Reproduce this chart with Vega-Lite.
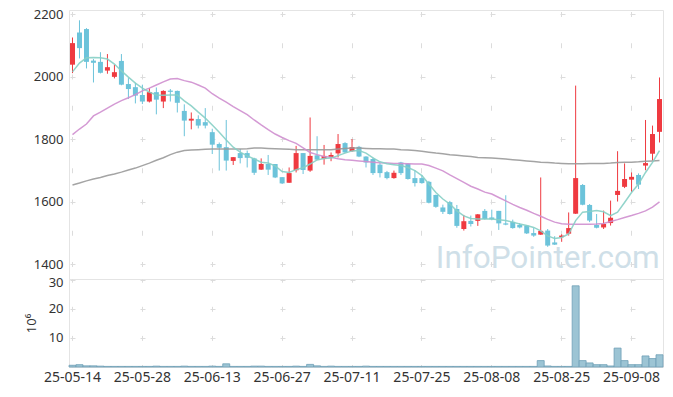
{
  "$schema": "https://vega.github.io/schema/vega-lite/v6.json",
  "padding": {"left": 24, "top": 7, "right": 10, "bottom": 5},
  "spacing": 0,
  "bounds": "flush",
  "config": {
    "view": {"stroke": "#e4e4e4", "strokeWidth": 1},
    "axis": {"labelFont": "Noto Sans", "labelFontSize": 13, "labelColor": "#333333", "titleFont": "Noto Sans", "domain": false, "ticks": false, "gridColor": "#dcdcdc", "gridWidth": 1}
  },
  "data": {"values": [
    {"d":"25-05-14","o":2038,"h":2125,"l":2011,"c":2107,"v":0.6,"m5":2015,"m20":1814,"m60":1653},
    {"d":"25-05-15","o":2141,"h":2180,"l":2058,"c":2091,"v":0.8,"m5":2043,"m20":1832,"m60":1659},
    {"d":"25-05-16","o":2152,"h":2155,"l":2026,"c":2047,"v":0.4,"m5":2060,"m20":1848,"m60":1666},
    {"d":"25-05-19","o":2051,"h":2056,"l":1981,"c":2044,"v":0.4,"m5":2061,"m20":1874,"m60":1672},
    {"d":"25-05-20","o":2047,"h":2078,"l":2010,"c":2012,"v":0.3,"m5":2060,"m20":1886,"m60":1677},
    {"d":"25-05-21","o":2019,"h":2072,"l":2009,"c":2030,"v":0.2,"m5":2056,"m20":1899,"m60":1683},
    {"d":"25-05-22","o":1999,"h":2038,"l":1994,"c":2014,"v":0.2,"m5":2040,"m20":1912,"m60":1688},
    {"d":"25-05-23","o":2050,"h":2072,"l":1972,"c":1974,"v":0.2,"m5":2018,"m20":1923,"m60":1694},
    {"d":"25-05-26","o":1976,"h":1995,"l":1928,"c":1960,"v":0.2,"m5":1998,"m20":1932,"m60":1701},
    {"d":"25-05-27","o":1966,"h":1980,"l":1914,"c":1939,"v":0.2,"m5":1979,"m20":1942,"m60":1707},
    {"d":"25-05-28","o":1941,"h":1974,"l":1912,"c":1920,"v":0.2,"m5":1963,"m20":1954,"m60":1715},
    {"d":"25-05-29","o":1920,"h":1963,"l":1917,"c":1950,"v":0.2,"m5":1950,"m20":1963,"m60":1723},
    {"d":"25-05-30","o":1950,"h":1965,"l":1879,"c":1926,"v":0.3,"m5":1941,"m20":1973,"m60":1732},
    {"d":"25-06-02","o":1920,"h":1956,"l":1899,"c":1954,"v":0.2,"m5":1940,"m20":1983,"m60":1740},
    {"d":"25-06-04","o":1955,"h":1960,"l":1920,"c":1951,"v":0.2,"m5":1941,"m20":1992,"m60":1750},
    {"d":"25-06-05","o":1954,"h":1955,"l":1885,"c":1916,"v":0.2,"m5":1941,"m20":1994,"m60":1758},
    {"d":"25-06-09","o":1890,"h":1911,"l":1809,"c":1859,"v":0.3,"m5":1922,"m20":1987,"m60":1763},
    {"d":"25-06-10","o":1859,"h":1885,"l":1831,"c":1865,"v":0.2,"m5":1906,"m20":1982,"m60":1765},
    {"d":"25-06-11","o":1864,"h":1876,"l":1834,"c":1843,"v":0.2,"m5":1886,"m20":1973,"m60":1766},
    {"d":"25-06-12","o":1854,"h":1899,"l":1834,"c":1843,"v":0.2,"m5":1867,"m20":1963,"m60":1767},
    {"d":"25-06-13","o":1822,"h":1833,"l":1752,"c":1782,"v":0.3,"m5":1845,"m20":1945,"m60":1768},
    {"d":"25-06-16","o":1784,"h":1789,"l":1699,"c":1772,"v":0.2,"m5":1822,"m20":1931,"m60":1768},
    {"d":"25-06-17","o":1774,"h":1861,"l":1699,"c":1731,"v":1.1,"m5":1797,"m20":1918,"m60":1768},
    {"d":"25-06-18","o":1730,"h":1742,"l":1717,"c":1742,"v":0.2,"m5":1774,"m20":1904,"m60":1768},
    {"d":"25-06-19","o":1755,"h":1768,"l":1722,"c":1739,"v":0.2,"m5":1758,"m20":1891,"m60":1768},
    {"d":"25-06-20","o":1755,"h":1763,"l":1709,"c":1740,"v":0.2,"m5":1746,"m20":1878,"m60":1769},
    {"d":"25-06-23","o":1738,"h":1740,"l":1685,"c":1692,"v":0.3,"m5":1736,"m20":1861,"m60":1771},
    {"d":"25-06-24","o":1702,"h":1738,"l":1701,"c":1720,"v":0.3,"m5":1726,"m20":1845,"m60":1771},
    {"d":"25-06-25","o":1720,"h":1749,"l":1685,"c":1702,"v":0.2,"m5":1723,"m20":1830,"m60":1770},
    {"d":"25-06-26","o":1720,"h":1720,"l":1675,"c":1677,"v":0.2,"m5":1714,"m20":1816,"m60":1769},
    {"d":"25-06-27","o":1678,"h":1678,"l":1656,"c":1658,"v":0.2,"m5":1696,"m20":1805,"m60":1768},
    {"d":"25-06-30","o":1660,"h":1709,"l":1660,"c":1691,"v":0.2,"m5":1693,"m20":1795,"m60":1767},
    {"d":"25-07-01","o":1700,"h":1778,"l":1693,"c":1755,"v":0.3,"m5":1702,"m20":1786,"m60":1766},
    {"d":"25-07-02","o":1755,"h":1755,"l":1688,"c":1701,"v":0.2,"m5":1708,"m20":1772,"m60":1766},
    {"d":"25-07-03","o":1699,"h":1869,"l":1695,"c":1746,"v":0.9,"m5":1720,"m20":1757,"m60":1766},
    {"d":"25-07-04","o":1748,"h":1809,"l":1733,"c":1734,"v":0.4,"m5":1733,"m20":1750,"m60":1766},
    {"d":"25-07-07","o":1736,"h":1781,"l":1718,"c":1746,"v":0.2,"m5":1738,"m20":1744,"m60":1766},
    {"d":"25-07-08","o":1742,"h":1757,"l":1729,"c":1749,"v":0.3,"m5":1739,"m20":1742,"m60":1766},
    {"d":"25-07-09","o":1754,"h":1816,"l":1741,"c":1784,"v":0.2,"m5":1747,"m20":1737,"m60":1768},
    {"d":"25-07-10","o":1787,"h":1790,"l":1755,"c":1757,"v":0.2,"m5":1755,"m20":1734,"m60":1770},
    {"d":"25-07-11","o":1761,"h":1800,"l":1759,"c":1774,"v":0.2,"m5":1762,"m20":1732,"m60":1771},
    {"d":"25-07-14","o":1775,"h":1778,"l":1742,"c":1744,"v":0.2,"m5":1763,"m20":1730,"m60":1771},
    {"d":"25-07-15","o":1744,"h":1745,"l":1709,"c":1725,"v":0.3,"m5":1755,"m20":1728,"m60":1770},
    {"d":"25-07-16","o":1736,"h":1741,"l":1685,"c":1691,"v":0.2,"m5":1740,"m20":1726,"m60":1769},
    {"d":"25-07-17","o":1718,"h":1725,"l":1677,"c":1691,"v":0.2,"m5":1727,"m20":1724,"m60":1769},
    {"d":"25-07-18","o":1694,"h":1698,"l":1671,"c":1675,"v":0.2,"m5":1721,"m20":1723,"m60":1768},
    {"d":"25-07-21","o":1675,"h":1699,"l":1673,"c":1692,"v":0.2,"m5":1718,"m20":1722,"m60":1768},
    {"d":"25-07-22","o":1725,"h":1727,"l":1685,"c":1691,"v":0.2,"m5":1715,"m20":1722,"m60":1766},
    {"d":"25-07-23","o":1721,"h":1722,"l":1670,"c":1672,"v":0.2,"m5":1709,"m20":1721,"m60":1765},
    {"d":"25-07-24","o":1675,"h":1700,"l":1648,"c":1659,"v":0.2,"m5":1699,"m20":1720,"m60":1763},
    {"d":"25-07-25","o":1675,"h":1685,"l":1657,"c":1659,"v":0.2,"m5":1683,"m20":1720,"m60":1761},
    {"d":"25-07-28","o":1663,"h":1666,"l":1594,"c":1596,"v":0.2,"m5":1656,"m20":1715,"m60":1758},
    {"d":"25-07-29","o":1621,"h":1622,"l":1580,"c":1583,"v":0.2,"m5":1629,"m20":1707,"m60":1755},
    {"d":"25-07-30","o":1581,"h":1590,"l":1560,"c":1567,"v":0.2,"m5":1608,"m20":1698,"m60":1753},
    {"d":"25-07-31","o":1598,"h":1602,"l":1558,"c":1560,"v":0.2,"m5":1592,"m20":1685,"m60":1750},
    {"d":"25-08-01","o":1576,"h":1589,"l":1516,"c":1522,"v":0.2,"m5":1570,"m20":1673,"m60":1748},
    {"d":"25-08-04","o":1512,"h":1557,"l":1507,"c":1537,"v":0.2,"m5":1554,"m20":1661,"m60":1746},
    {"d":"25-08-05","o":1538,"h":1555,"l":1520,"c":1528,"v":0.2,"m5":1546,"m20":1649,"m60":1744},
    {"d":"25-08-06","o":1538,"h":1560,"l":1522,"c":1559,"v":0.2,"m5":1544,"m20":1640,"m60":1741},
    {"d":"25-08-07","o":1570,"h":1576,"l":1542,"c":1544,"v":0.2,"m5":1544,"m20":1630,"m60":1740},
    {"d":"25-08-08","o":1549,"h":1574,"l":1540,"c":1543,"v":0.2,"m5":1544,"m20":1624,"m60":1739},
    {"d":"25-08-11","o":1570,"h":1570,"l":1509,"c":1530,"v":0.2,"m5":1542,"m20":1613,"m60":1738},
    {"d":"25-08-12","o":1530,"h":1620,"l":1524,"c":1526,"v":0.2,"m5":1539,"m20":1602,"m60":1736},
    {"d":"25-08-13","o":1535,"h":1542,"l":1513,"c":1515,"v":0.2,"m5":1534,"m20":1591,"m60":1734},
    {"d":"25-08-14","o":1525,"h":1531,"l":1514,"c":1517,"v":0.2,"m5":1528,"m20":1581,"m60":1732},
    {"d":"25-08-18","o":1523,"h":1524,"l":1496,"c":1498,"v":0.2,"m5":1523,"m20":1572,"m60":1730},
    {"d":"25-08-19","o":1499,"h":1515,"l":1487,"c":1491,"v":0.2,"m5":1517,"m20":1562,"m60":1728},
    {"d":"25-08-20","o":1494,"h":1677,"l":1493,"c":1506,"v":2.2,"m5":1506,"m20":1553,"m60":1726},
    {"d":"25-08-21","o":1507,"h":1512,"l":1455,"c":1459,"v":0.35,"m5":1490,"m20":1543,"m60":1725},
    {"d":"25-08-22","o":1469,"h":1489,"l":1461,"c":1462,"v":0.2,"m5":1482,"m20":1534,"m60":1723},
    {"d":"25-08-25","o":1486,"h":1495,"l":1471,"c":1491,"v":0.2,"m5":1485,"m20":1529,"m60":1722},
    {"d":"25-08-26","o":1497,"h":1565,"l":1491,"c":1515,"v":0.2,"m5":1496,"m20":1527,"m60":1721},
    {"d":"25-08-27","o":1561,"h":1971,"l":1560,"c":1675,"v":27.9,"m5":1539,"m20":1527,"m60":1721},
    {"d":"25-08-28","o":1653,"h":1656,"l":1588,"c":1590,"v":2.2,"m5":1566,"m20":1527,"m60":1721},
    {"d":"25-08-29","o":1589,"h":1592,"l":1534,"c":1539,"v":1.4,"m5":1568,"m20":1527,"m60":1722},
    {"d":"25-09-01","o":1525,"h":1560,"l":1514,"c":1516,"v":0.8,"m5":1571,"m20":1528,"m60":1722},
    {"d":"25-09-02","o":1517,"h":1571,"l":1512,"c":1528,"v":0.8,"m5":1567,"m20":1530,"m60":1722},
    {"d":"25-09-03","o":1531,"h":1603,"l":1523,"c":1548,"v":0.35,"m5":1555,"m20":1536,"m60":1723},
    {"d":"25-09-04","o":1621,"h":1761,"l":1600,"c":1634,"v":6.5,"m5":1566,"m20":1542,"m60":1725},
    {"d":"25-09-05","o":1647,"h":1722,"l":1643,"c":1672,"v":2.2,"m5":1597,"m20":1549,"m60":1726},
    {"d":"25-09-08","o":1670,"h":1693,"l":1631,"c":1679,"v":0.8,"m5":1629,"m20":1555,"m60":1726},
    {"d":"25-09-09","o":1685,"h":1690,"l":1640,"c":1654,"v":0.8,"m5":1656,"m20":1562,"m60":1727},
    {"d":"25-09-10","o":1715,"h":1861,"l":1700,"c":1723,"v":3.8,"m5":1693,"m20":1570,"m60":1729},
    {"d":"25-09-11","o":1753,"h":1843,"l":1731,"c":1816,"v":2.9,"m5":1725,"m20":1582,"m60":1730},
    {"d":"25-09-12","o":1823,"h":1997,"l":1789,"c":1928,"v":4.2,"m5":1763,"m20":1599,"m60":1731}
  ]},
  "vconcat": [
    {
      "width": 594,
      "height": 269,
      "encoding": {
        "x": {"field": "d", "type": "ordinal", "sort": null,
          "scale": {"paddingInner": 0, "paddingOuter": 0},
          "axis": {"title": null, "labels": false, "grid": true,
            "values": ["25-05-14","25-05-28","25-06-13","25-06-27","25-07-11","25-07-25","25-08-08","25-08-25","25-09-08"],
            "gridDash": [5, 26.25], "gridDashOffset": 29.75}}
      },
      "layer": [
        {
          "mark": {"type": "text", "font": "Roboto", "fontSize": 31.5, "color": "#cfdfe8", "align": "center", "baseline": "alphabetic"},
          "encoding": {
            "text": {"condition": {"test": "datum.d === '25-08-21'", "value": "InfoPointer.com"}, "value": ""},
            "y": {"datum": 1386, "type": "quantitative"}
          }
        },
        {
          "mark": {"type": "rule", "strokeWidth": 1},
          "encoding": {
            "y": {"field": "l", "type": "quantitative",
              "scale": {"domain": [1352, 2213], "nice": false, "zero": false},
              "axis": {"title": null, "format": "d", "values": [1400,1500,1600,1700,1800,1900,2000,2100,2200], "labelPadding": 6, "grid": true, "gridDash": [5, 65], "gridDashOffset": 69}},
            "y2": {"field": "h"},
            "color": {"condition": {"test": "datum.c >= datum.o", "value": "#ef3a40"}, "value": "#6cc3da"}
          }
        },
        {
          "mark": {"type": "bar", "width": 5},
          "encoding": {
            "y": {"field": "o", "type": "quantitative"},
            "y2": {"field": "c"},
            "color": {"condition": {"test": "datum.c >= datum.o", "value": "#ef3a40"}, "value": "#6cc3da"}
          }
        },
        {
          "mark": {"type": "line", "color": "#9a9a9a", "strokeWidth": 1.5, "opacity": 0.9},
          "encoding": {"y": {"field": "m60", "type": "quantitative"}}
        },
        {
          "mark": {"type": "line", "color": "#cf8fcf", "strokeWidth": 1.5, "opacity": 0.9},
          "encoding": {"y": {"field": "m20", "type": "quantitative"}}
        },
        {
          "mark": {"type": "line", "color": "#86cfc5", "strokeWidth": 1.5, "opacity": 0.9},
          "encoding": {"y": {"field": "m5", "type": "quantitative"}}
        }
      ]
    },
    {
      "width": 594,
      "height": 88,
      "mark": {"type": "bar", "fill": "#9cc4d4", "stroke": "#6e9fb6", "strokeWidth": 0.8},
      "encoding": {
        "x": {"field": "d", "type": "ordinal", "sort": null,
          "scale": {"paddingInner": 0, "paddingOuter": 0},
          "axis": {"title": null, "labelAngle": 0, "labelFontSize": 14, "labelPadding": 3, "labelOverlap": false,
            "values": ["25-05-14","25-05-28","25-06-13","25-06-27","25-07-11","25-07-25","25-08-08","25-08-25","25-09-08"],
            "grid": true, "gridDash": [5, 24.1], "gridDashOffset": 1.8}},
        "y": {"field": "v", "type": "quantitative",
          "scale": {"domain": [0, 30.24], "nice": false},
          "axis": {"values": [10, 20, 30], "format": "d", "title": "10⁶", "titleFontSize": 13, "titleFontWeight": "normal", "titleColor": "#333333", "titlePadding": 10, "labelPadding": 6,
            "labelOffset": {"condition": {"test": "datum.value >= 30", "value": 3}, "value": 0},
            "grid": true, "gridDash": [5, 65], "gridDashOffset": 69}}
      }
    }
  ]
}
